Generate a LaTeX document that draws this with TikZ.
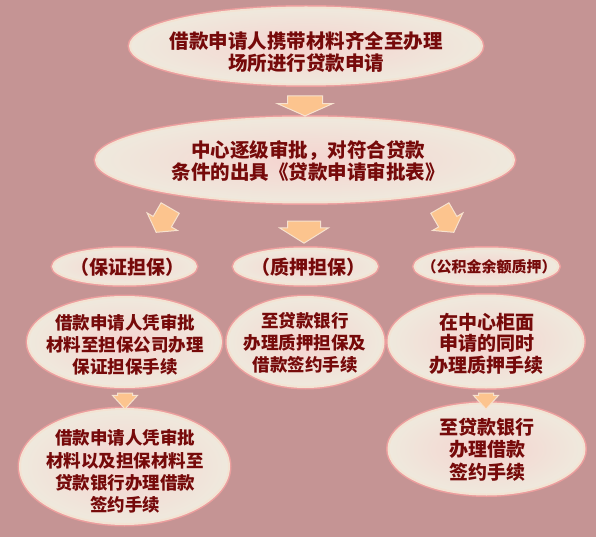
\documentclass[tikz,border=0pt]{standalone}
\usepackage{fontspec}
\newfontfamily\cjk{Noto Sans CJK SC}
\usetikzlibrary{shapes.geometric,shapes.arrows}
\definecolor{bg}{HTML}{C59494}
\definecolor{txtc}{HTML}{760A0A}
\definecolor{arrowfill}{HTML}{FCC48E}
\definecolor{arrowedge}{HTML}{F7E2CF}
\definecolor{ellin}{HTML}{F5D3CF}
\definecolor{ellout}{HTML}{EFE9DD}
\definecolor{ellrim}{HTML}{F3E3D3}
\definecolor{ellglow}{HTML}{EC9E9E}
\tikzset{
  oval/.style={ellipse, inner sep=0pt, shading=radial, inner color=ellin, outer color=ellout,
    draw=ellrim, line width=2pt, preaction={draw=ellglow, line width=5pt}},
  lbl/.style={text=txtc, align=center, inner sep=0pt},
  fbig/.style={font=\cjk\bfseries\fontsize{19.5pt}{21.5pt}\selectfont},
  fmid/.style={font=\cjk\bfseries\fontsize{17.5pt}{22pt}\selectfont},
  fmidb/.style={font=\cjk\bfseries\fontsize{19pt}{22pt}\selectfont},
  fsmall/.style={font=\cjk\bfseries\fontsize{15pt}{18pt}\selectfont},
  blockarrow/.style={single arrow, fill=arrowfill, draw=arrowedge, line width=1pt,
    inner xsep=0pt, single arrow head indent=0pt}
}
\begin{document}
\begin{tikzpicture}[x=1pt,y=-1pt]
\fill[bg] (0,0) rectangle (596,537);
\useasboundingbox (0,0) rectangle (596,537);

% ellipses
\node[oval, minimum width=352pt, minimum height=77pt] (e1) at (306,46) {};
\node[oval, minimum width=418pt, minimum height=85pt] (e2) at (305,160) {};
\node[oval, minimum width=143pt, minimum height=36pt] (s1) at (124.5,266.5) {};
\node[oval, minimum width=143pt, minimum height=36pt] (s2) at (305.5,266.5) {};
\node[oval, minimum width=144pt, minimum height=36pt] (s3) at (486.5,266.5) {};
\node[oval, minimum width=193pt, minimum height=90pt] (m1) at (124.5,342) {};
\node[oval, minimum width=156pt, minimum height=90pt] (m2) at (305.5,342) {};
\node[oval, minimum width=195pt, minimum height=92pt] (m3) at (486,341.5) {};
\node[oval, minimum width=209pt, minimum height=115pt] (b1) at (124.5,466.5) {};
\node[oval, minimum width=196pt, minimum height=91pt] (b3) at (486.5,449) {};

% texts
\node[lbl, fbig] (t1) at (306,52) {借款申请人携带材料齐全至办理\\场所进行贷款申请};
\node[lbl, fbig] (t2) at (308,161) {中心逐级审批，对符合贷款\\条件的出具《贷款申请审批表》};
\node[lbl, fmidb] (ts1) at (127,267) {（保证担保）};
\node[lbl, fmidb] (ts2) at (308,267) {（质押担保）};
\node[lbl, fsmall] (ts3) at (489,267) {（公积金余额质押）};
\node[lbl, fmid] (tm1) at (125,345) {借款申请人凭审批\\材料至担保公司办理\\保证担保手续};
\node[lbl, fmid] (tm2) at (305,343) {至贷款银行\\办理质押担保及\\借款签约手续};
\node[lbl, font=\cjk\bfseries\fontsize{19pt}{21.5pt}\selectfont] (tm3) at (486.5,343.5) {在中心柜面\\申请的同时\\办理质押手续};
\node[lbl, font=\cjk\bfseries\fontsize{17.5pt}{22.3pt}\selectfont] (tb1) at (125,471.5) {借款申请人凭审批\\材料以及担保材料至\\贷款银行办理借款\\签约手续};
\node[lbl, font=\cjk\bfseries\fontsize{19pt}{22.5pt}\selectfont] (tb3) at (487,449.5) {至贷款银行\\办理借款\\签约手续};

% arrows
\node[blockarrow, rotate=-90, minimum height=20pt, inner ysep=17pt,
      single arrow head extend=10pt, single arrow tip angle=132] (a1) at (305,102) {};
\node[blockarrow, rotate=-120, minimum height=28pt, inner ysep=10pt,
      single arrow head extend=7pt, single arrow tip angle=110] (a2) at (165,217) {};
\node[blockarrow, rotate=-90, minimum height=22pt, inner ysep=16pt,
      single arrow head extend=8pt, single arrow tip angle=116] (a3) at (304,227) {};
\node[blockarrow, rotate=-60, minimum height=28pt, inner ysep=10pt,
      single arrow head extend=7pt, single arrow tip angle=110] (a4) at (445,217) {};
\node[blockarrow, rotate=-90, minimum height=16pt, inner ysep=7pt,
      single arrow head extend=5pt, single arrow tip angle=85] (a5) at (125,397) {};
\node[blockarrow, rotate=-90, minimum height=16pt, inner ysep=7pt,
      single arrow head extend=5pt, single arrow tip angle=85] (a6) at (486,397) {};
\end{tikzpicture}
\end{document}
